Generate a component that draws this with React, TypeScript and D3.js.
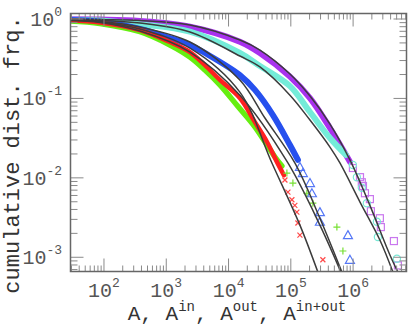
import React from 'react';
import * as d3 from 'd3';

const W = 410, H = 326;
const L = 70.5, R = 406.5, T = 13.5, B = 271.5;

const xDomain = [29, 7.2e6];
const yDomain = [6.62e-4, 1.173];

const xMajor = [1e2, 1e3, 1e4, 1e5, 1e6];
const xExp = ['2', '3', '4', '5', '6'];
const yMajor = [1, 1e-1, 1e-2, 1e-3];
const yExp = ['0', '-1', '-2', '-3'];

// dense parts of the empirical distributions [A, P]
const purpleBand = [[29,0.991],[86,0.983],[378,0.944],[2400,0.800],[15200,0.518],[31900,0.373],[96800,0.188],[203000,0.101],[425000,0.0424],[889000,0.0159]];
const cyanBand = [[29,0.977],[86,0.957],[378,0.858],[2400,0.692],[15200,0.373],[31900,0.256],[96800,0.143],[203000,0.0674],[425000,0.0317],[766000,0.0194]];
const blueBand = [[29,0.971],[86,0.930],[378,0.748],[1146,0.576],[2400,0.471],[4180,0.373],[15200,0.197],[26500,0.128],[51600,0.0618],[96800,0.0259],[130000,0.0168]];
const greenBand = [[29,0.944],[86,0.878],[378,0.692],[1146,0.471],[2400,0.332],[4180,0.228],[7270,0.148],[14200,0.079],[26500,0.0438],[55600,0.0183],[71900,0.0141]];
const redBand = [[29,0.957],[86,0.904],[378,0.727],[1146,0.513],[2400,0.384],[4180,0.263],[7270,0.171],[15200,0.101],[26500,0.0504],[41300,0.0285],[59800,0.0159],[77400,0.0108]];

// sparse tails
const purpleTail = [[993000,0.0133],[1.29e6,0.0102],[1.38e6,0.0088],[1.44e6,0.0079],[1.55e6,0.0064],[1.86e6,0.0054],[1.93e6,0.0038],[2.69e6,0.0031],[2.79e6,0.0024],[4.52e6,0.0016],[5.24e6,0.00079]];
const cyanTail = [[993000,0.0145],[1.15e6,0.0102],[1.38e6,0.0075],[1.66e6,0.0048],[2.41e6,0.0028],[2.50e6,0.0018],[5.05e6,0.00096]];
const blueTail = [[140000,0.0137],[156000,0.0115],[203000,0.0086],[218000,0.0064],[293000,0.0037],[293000,0.0028],[826000,0.0019],[889000,0.00093]];
const greenTail = [[86500,0.0115],[108000,0.0086],[181000,0.0064],[226000,0.0048],[549000,0.0024],[686000,0.0012]];
const redTail = [[80400,0.0094],[89800,0.0066],[104000,0.0053],[116000,0.0045],[125000,0.0037],[130000,0.0027],[140000,0.0019],[327000,0.00093]];

// fitted curves
const purpleFit = [[29,0.994],[378,0.957],[2400,0.840],[15200,0.544],[31900,0.407],[96800,0.203],[203000,0.107],[425000,0.0476],[889000,0.0168],[1.86e6,0.0045],[3.9e6,0.00107],[5.24e6,0.00065]];
const cyanFit = [[29,0.986],[378,0.890],[2400,0.686],[15200,0.342],[31900,0.249],[96800,0.110],[203000,0.0534],[425000,0.0244],[614000,0.0154],[1.29e6,0.00496],[2.69e6,0.00165],[4.36e6,0.00065]];
const blueFit = [[29,0.971],[86,0.930],[378,0.793],[2400,0.513],[15200,0.171],[38400,0.0567],[116000,0.0154],[293000,0.0031],[661000,0.00065]];
const redFit = [[29,0.963],[86,0.917],[378,0.748],[2400,0.431],[15200,0.120],[49700,0.0154],[140000,0.00254],[272000,0.00065]];
const greenFit = [[29,0.957],[86,0.904],[378,0.706],[2400,0.384],[15200,0.110],[89800,0.0154],[293000,0.00254],[637000,0.00065]];

const C = {
  purple: '#a932ef', purpleL: '#c977ee',
  cyan: '#74ecd9', cyanL: '#7ae8d6',
  blue: '#2650ee', blueL: '#5577f6',
  green: '#66ee11', greenL: '#77e033',
  red: '#ff2020', redL: '#ff4a4a',
};

export default function App() {
  const x = d3.scaleLog().domain(xDomain).range([L, R]);
  const y = d3.scaleLog().domain(yDomain).range([B, T]);
  const line = d3.line<number[]>().x(d => x(d[0])).y(d => y(d[1])).curve(d3.curveCatmullRom.alpha(0.5));

  const xTicks = x.ticks();
  const yTicks = y.ticks();
  const isMajor = (v: number) => Math.abs(Math.log10(v) - Math.round(Math.log10(v))) < 1e-6;

  const font = "'Liberation Mono', 'DejaVu Sans Mono', monospace";
  const tickCol = '#8a8a8a';

  const band = (d: number[][], col: string, w = 7) => (
    <path d={line(d) || ''} fill="none" stroke={col} strokeWidth={w} strokeLinecap="round" strokeLinejoin="round" />
  );

  return (
    <svg width={W} height={H} style={{ position: 'absolute', left: 0, top: 0, background: '#fff' }}>
      <defs>
        <clipPath id="plot"><rect x={L} y={T} width={R - L} height={B - T} /></clipPath>
      </defs>
      <g clipPath="url(#plot)">
        {band(purpleBand, C.purple, 6)}
        {band(cyanBand, C.cyan, 6)}
        {band(blueBand, C.blue, 6)}
        {band(greenBand, C.green, 5.5)}
        {band(redBand, C.red, 4.5)}
        {purpleTail.map((d, i) => (
          <rect key={'p' + i} x={x(d[0]) - 3.5} y={y(d[1]) - 3.5} width={7} height={7} fill="none" stroke={C.purpleL} strokeWidth={1.2} />
        ))}
        {cyanTail.map((d, i) => (
          <circle key={'c' + i} cx={x(d[0])} cy={y(d[1])} r={3.6} fill="none" stroke={C.cyanL} strokeWidth={1.2} />
        ))}
        {blueTail.map((d, i) => (
          <path key={'b' + i} transform={`translate(${x(d[0])},${y(d[1])})`} d="M0,-4.5L4.5,3.5L-4.5,3.5Z" fill="none" stroke={C.blueL} strokeWidth={1.2} />
        ))}
        {greenTail.map((d, i) => (
          <path key={'g' + i} transform={`translate(${x(d[0])},${y(d[1])})`} d="M-3.5,0H3.5M0,-3.5V3.5" fill="none" stroke={C.greenL} strokeWidth={1.2} />
        ))}
        {redTail.map((d, i) => (
          <path key={'r' + i} transform={`translate(${x(d[0])},${y(d[1])})`} d="M-2.5,-2.5L2.5,2.5M-2.5,2.5L2.5,-2.5" fill="none" stroke={C.redL} strokeWidth={1.2} />
        ))}
        {[purpleFit, cyanFit, blueFit, redFit, greenFit].map((f, i) => (
          <path key={'f' + i} d={line(f) || ''} fill="none" stroke="#3c3c3c" strokeWidth={1.5} />
        ))}
      </g>
      {/* ticks */}
      {xTicks.map((t, i) => {
        const len = isMajor(t) ? 13 : 6;
        const px = x(t);
        return (
          <g key={'xt' + i} stroke={tickCol} strokeWidth={1}>
            <line x1={px} x2={px} y1={B} y2={B - len} />
            <line x1={px} x2={px} y1={T} y2={T + len} />
          </g>
        );
      })}
      {yTicks.map((t, i) => {
        const len = isMajor(t) ? 13 : 7;
        const py = y(t);
        return (
          <g key={'yt' + i} stroke={tickCol} strokeWidth={1}>
            <line x1={L} x2={L + len} y1={py} y2={py} />
            <line x1={R} x2={R - len} y1={py} y2={py} />
          </g>
        );
      })}
      <rect x={L} y={T} width={R - L} height={B - T} fill="none" stroke="#666" strokeWidth={1.5} />
      {/* tick labels */}
      {xMajor.map((v, i) => (
        <text key={'xl' + i} x={x(v)} y={297} textAnchor="middle" fontFamily={font} fontSize={20} fill="#555">
          10<tspan dy={-10} fontSize={13}>{xExp[i]}</tspan>
        </text>
      ))}
      {yMajor.map((v, i) => (
        <text key={'yl' + i} x={62} y={y(v) + 7} textAnchor="end" fontFamily={font} fontSize={20} fill="#555">
          10<tspan dy={-10} fontSize={13}>{yExp[i]}</tspan>
        </text>
      ))}
      {/* axis labels */}
      <text x={237} y={320} textAnchor="middle" fontFamily={font} fontSize={21} fill="#333">
        A, A<tspan dy={-9} fontSize={14}>in</tspan><tspan dy={9}>, A</tspan><tspan dy={-9} fontSize={14}>out</tspan><tspan dy={9}>, A</tspan><tspan dy={-9} fontSize={14}>in+out</tspan>
      </text>
      <text transform="translate(19,155) rotate(-90)" textAnchor="middle" fontFamily={font} fontSize={22} fill="#333">
        cumulative dist. frq.
      </text>
    </svg>
  );
}
